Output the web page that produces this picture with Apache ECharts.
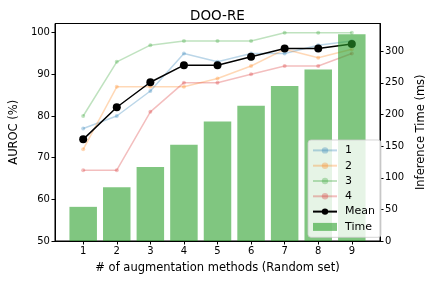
<!DOCTYPE html>
<html>
<head>
<meta charset="utf-8">
<script src="https://cdn.jsdelivr.net/npm/echarts@6/dist/echarts.min.js"></script>
<style>html,body{margin:0;padding:0;background:#fff;}#c{width:435px;height:282px;}</style>
</head>
<body>
<div id="c"></div>
<script>
const categories = [1, 2, 3, 4, 5, 6, 7, 8, 9];
const run1 = [77, 80, 86, 95, 93, 95, 95, 97, 98];
const run2 = [72, 87, 87, 87, 89, 92, 96, 94, 96];
const run3 = [80, 93, 97, 98, 98, 98, 100, 100, 100];
const run4 = [67, 67, 81, 88, 88, 90, 92, 92, 95];
const meanVals = [74.4, 82.1, 88.1, 92.2, 92.2, 94.2, 96.2, 96.2, 97.3];
const timeVals = [54, 85, 117, 152, 189, 214, 245, 271, 327];
const aurocTicks = [50, 60, 70, 80, 90, 100];
const timeTicks = [0, 50, 100, 150, 200, 250, 300];

const FONT = 'DejaVu Sans';
const pair = arr => categories.map((c, i) => [c, arr[i]]);
const faint = (name, color, data) => ({
  name, type: 'line', data: pair(data), xAxisIndex: 0, yAxisIndex: 0,
  symbol: 'circle', symbolSize: 4,
  lineStyle: { color, width: 1.5, opacity: 0.3 },
  itemStyle: { color, opacity: 0.3 },
  emphasis: { disabled: true }, z: 2
});

const chart = echarts.init(document.getElementById('c'), null, { renderer: 'canvas' });
chart.setOption({
  animation: false,
  backgroundColor: '#fff',
  textStyle: { fontFamily: FONT },
  title: {
    text: 'DOO-RE', left: 'center', top: 4,
    textStyle: { fontFamily: FONT, fontSize: 13.5, fontWeight: 'normal', color: '#000' }
  },
  grid: { left: 50, right: 50, top: 23.5, bottom: 41, show: true, borderColor: '#000', borderWidth: 1, backgroundColor: 'transparent' },
  legend: {
    orient: 'vertical', left: 308, top: 140,
    itemWidth: 24, itemHeight: 8, itemGap: 2.5,
    padding: [4, 6, 4, 4],
    backgroundColor: 'rgba(255,255,255,0.8)', borderColor: 'rgba(204,204,204,0.8)', borderWidth: 1, borderRadius: 3,
    textStyle: { fontFamily: FONT, fontSize: 11, color: '#000', lineHeight: 12.8, padding: [0, 0, 0, 3] },
    data: [
      { name: '1' }, { name: '2' }, { name: '3' }, { name: '4' },
      { name: 'Mean' }, { name: 'Time', icon: 'rect' }
    ],
    z: 10
  },
  xAxis: {
    type: 'value', min: 0.16, max: 9.84,
    name: '# of augmentation methods (Random set)', nameLocation: 'middle', nameGap: 21,
    nameTextStyle: { fontFamily: FONT, fontSize: 11.5, color: '#000' },
    axisLine: { show: true, lineStyle: { color: '#000', width: 1 } },
    axisTick: { show: true, inside: false, length: 3.5, lineStyle: { color: '#000' }, customValues: categories },
    axisLabel: { fontFamily: FONT, fontSize: 10, color: '#000', margin: 5, customValues: categories },
    splitLine: { show: false }
  },
  yAxis: [
    {
      type: 'value', min: 50, max: 102.2,
      name: 'AUROC (%)', nameLocation: 'middle', nameGap: 30, nameRotate: 90,
      nameTextStyle: { fontFamily: FONT, fontSize: 11.5, color: '#000' },
      axisLine: { show: true, lineStyle: { color: '#000', width: 1 } },
      axisTick: { show: true, length: 3.5, lineStyle: { color: '#000' }, customValues: aurocTicks },
      axisLabel: { fontFamily: FONT, fontSize: 10, color: '#000', margin: 5, customValues: aurocTicks },
      splitLine: { show: false }
    },
    {
      type: 'value', min: 0, max: 343.9, position: 'right',
      name: 'Inference Time (ms)', nameLocation: 'middle', nameGap: 30, nameRotate: 90,
      nameTextStyle: { fontFamily: FONT, fontSize: 11.5, color: '#000' },
      axisLine: { show: true, lineStyle: { color: '#000', width: 1 } },
      axisTick: { show: true, length: 3.5, lineStyle: { color: '#000' }, customValues: timeTicks },
      axisLabel: { fontFamily: FONT, fontSize: 10, color: '#000', margin: 5, customValues: timeTicks },
      splitLine: { show: false }
    }
  ],
  series: [
    faint('1', '#1f77b4', run1),
    faint('2', '#ff7f0e', run2),
    faint('3', '#2ca02c', run3),
    faint('4', '#d62728', run4),
    {
      name: 'Mean', type: 'line', data: pair(meanVals), xAxisIndex: 0, yAxisIndex: 0,
      symbol: 'circle', symbolSize: 8,
      lineStyle: { color: '#000', width: 1.5 }, itemStyle: { color: '#000' },
      emphasis: { disabled: true }, z: 3
    },
    {
      name: 'Time', type: 'bar', data: pair(timeVals), xAxisIndex: 0, yAxisIndex: 1,
      barWidth: 27.5,
      itemStyle: { color: 'rgba(44,160,44,0.6)' },
      emphasis: { disabled: true }, z: 4
    }
  ]
});
</script>
</body>
</html>
